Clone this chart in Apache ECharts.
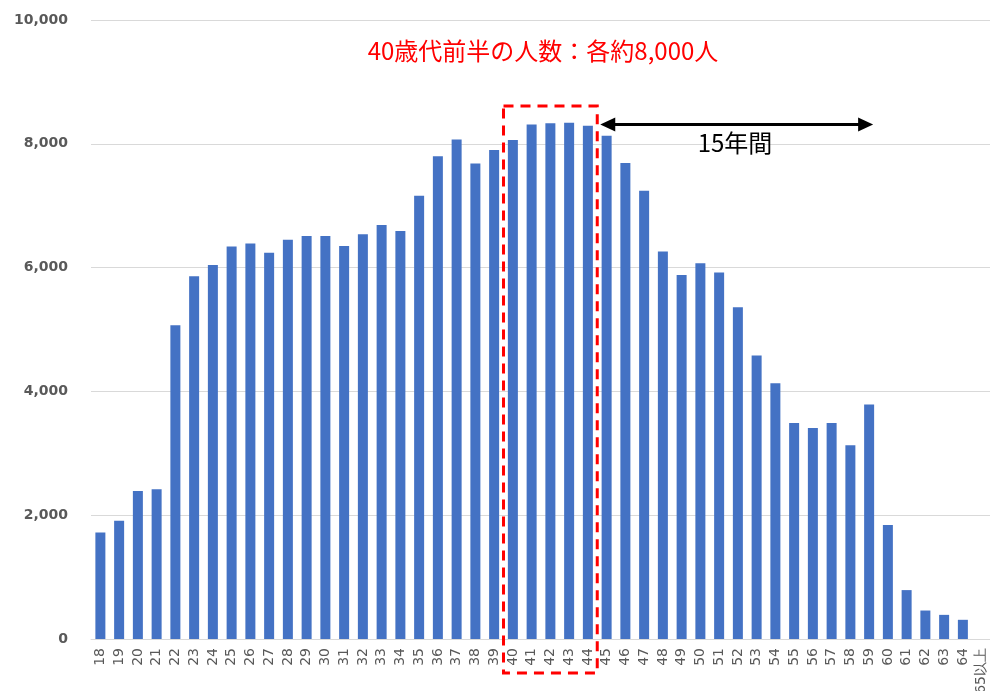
<!DOCTYPE html>
<html><head><meta charset="utf-8">
<script src="https://cdn.jsdelivr.net/npm/echarts@6/dist/echarts.min.js"></script>
<style>html,body{margin:0;padding:0;background:#fff}#c{width:990px;height:691px}</style>
</head><body><div id="c"></div>
<script>
const categories = ['18','19','20','21','22','23','24','25','26','27','28','29','30','31','32','33','34','35','36','37','38','39','40','41','42','43','44','45','46','47','48','49','50','51','52','53','54','55','56','57','58','59','60','61','62','63','64','65以上'];
const values = [1720,1910,2390,2420,5070,5860,6040,6340,6390,6240,6450,6510,6510,6350,6540,6690,6590,7160,7800,8070,7680,7900,8060,8310,8330,8340,8290,8130,7690,7240,6260,5880,6070,5920,5360,4580,4130,3490,3410,3490,3130,3790,1840,790,460,390,310,0];
const yMin = 0, yMax = 10000, yStep = 2000;
const titleText = '40歳代前半の人数：各約8,000人';
const spanText = '15年間';
const boxFrom = '40', boxTo = '44', arrowTo = '59';

const chart = echarts.init(document.getElementById('c'), null, {renderer: 'canvas'});
const option = {
  animation: false,
  grid: {left: 91, top: 20, width: 900, bottom: 52, containLabel: false, outerBoundsMode: 'none'},
  xAxis: {
    type: 'category', data: categories,
    axisLine: {lineStyle: {color: '#d9d9d9', width: 1}},
    axisTick: {show: false},
    axisLabel: {rotate: 90, margin: 9, color: '#595959', fontSize: 14, fontFamily: 'DejaVu Sans', interval: 0}
  },
  yAxis: {
    type: 'value', min: yMin, max: yMax, interval: yStep,
    axisLine: {show: false}, axisTick: {show: false},
    splitLine: {lineStyle: {color: '#d9d9d9', width: 1}},
    axisLabel: {margin: 23, color: '#595959', fontSize: 14, fontWeight: 'bold', fontFamily: 'DejaVu Sans',
      formatter: v => v.toLocaleString('en-US')}
  },
  series: [{type: 'bar', data: values, barWidth: 10, itemStyle: {color: '#4472C4'}}]
};
chart.setOption(option);

const half = 900 / categories.length / 2;
const xl = chart.convertToPixel({xAxisIndex: 0}, boxFrom) - half;
const xr = chart.convertToPixel({xAxisIndex: 0}, boxTo) + half;
const yTop = chart.convertToPixel({yAxisIndex: 0}, 8610);
const y0 = chart.convertToPixel({yAxisIndex: 0}, 0);
const yArrow = chart.convertToPixel({yAxisIndex: 0}, 8310);
const xa1 = xr + 3;
const xa2 = chart.convertToPixel({xAxisIndex: 0}, arrowTo) + 4;
const ah = 15, aw = 7;

chart.setOption({
  graphic: [
    {type: 'rect', shape: {x: xl, y: yTop, width: xr - xl, height: (y0 + 34) - yTop},
      style: {fill: 'none', stroke: '#ff0000', lineWidth: 3, lineDash: [10, 7]}, z: 100},
    {type: 'line', shape: {x1: xa1 + ah - 2, y1: yArrow, x2: xa2 - ah + 2, y2: yArrow},
      style: {stroke: '#000', lineWidth: 3}, z: 100},
    {type: 'polygon', shape: {points: [[xa1, yArrow], [xa1 + ah, yArrow - aw], [xa1 + ah, yArrow + aw]]},
      style: {fill: '#000'}, z: 100},
    {type: 'polygon', shape: {points: [[xa2, yArrow], [xa2 - ah, yArrow - aw], [xa2 - ah, yArrow + aw]]},
      style: {fill: '#000'}, z: 100},
    {type: 'text', x: 543, y: 51, style: {text: titleText, fill: '#ff0000', font: '24px "Noto Sans CJK JP"', align: 'center', verticalAlign: 'middle'}, z: 100},
    {type: 'text', x: 735, y: 143, style: {text: spanText, fill: '#000', font: '24px "Noto Sans CJK JP"', align: 'center', verticalAlign: 'middle'}, z: 100}
  ]
});
</script></body></html>
